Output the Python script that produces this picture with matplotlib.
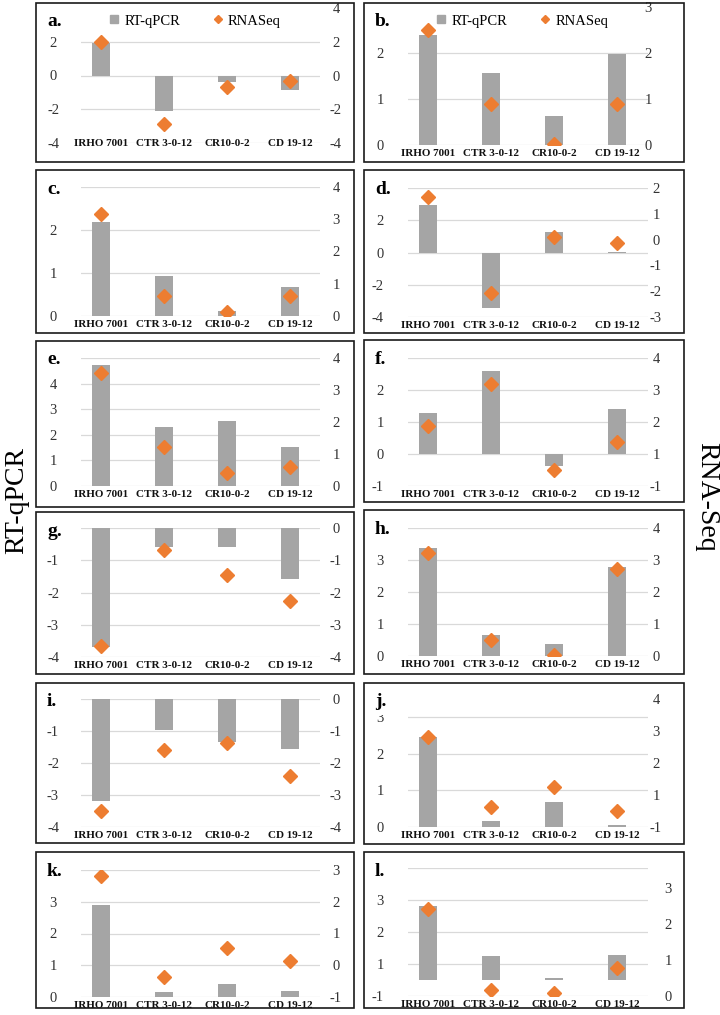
# RT-qPCR x RNA-Seq - 12 genes, 4 cultivares
import matplotlib.pyplot as plt
from matplotlib.patches import Rectangle
from matplotlib.lines import Line2D

plt.rcParams['font.family'] = ['Liberation Serif', 'DejaVu Serif']

# categorias (eixo x)
cultivares = ['IRHO 7001', 'CTR 3-0-12', 'CR10-0-2', 'CD 19-12']

# valores: barras (RT-qPCR, eixo esquerdo) e losangos (RNASeq, eixo direito)
qpcr_a = [1.9, -2.1, -0.4, -0.85]
seq_a = [2.0, -2.9, -0.7, -0.35]
qpcr_b = [2.4, 1.57, 0.63, 1.97]
seq_b = [2.5, 0.9, 0.02, 0.9]
qpcr_c = [2.19, 0.93, 0.11, 0.67]
seq_c = [3.17, 0.62, 0.12, 0.62]
qpcr_d = [2.97, -3.45, 1.27, 0.04]
seq_d = [1.64, -2.07, 0.12, -0.12]
qpcr_e = [4.72, 2.31, 2.55, 1.53]
seq_e = [3.53, 1.22, 0.41, 0.59]
qpcr_f = [1.28, 2.6, -0.37, 1.41]
seq_f = [1.88, 3.19, 0.5, 1.38]
qpcr_g = [-3.68, -0.59, -0.59, -1.58]
seq_g = [-3.65, -0.68, -1.46, -2.26]
qpcr_h = [3.37, 0.65, 0.36, 2.78]
seq_h = [3.22, 0.5, 0.03, 2.72]
qpcr_i = [-3.19, -0.97, -1.34, -1.55]
seq_i = [-3.5, -1.6, -1.38, -2.4]
qpcr_j = [2.45, 0.17, 0.68, 0.05]
seq_j = [2.81, 0.63, 1.25, 0.5]
qpcr_k = [2.9, 0.17, 0.4, 0.2]
seq_k = [2.8, -0.38, 0.53, 0.12]
qpcr_l = [2.82, 1.24, 0.57, 1.27]
seq_l = [2.42, 0.17, 0.08, 0.78]
base_l = 0.5  # barras do painel l partem deste valor

W, H = 720, 1015
fig = plt.figure(figsize=(W / 100, H / 100), dpi=100)

cinza = '#A5A5A5'
laranja = '#ED7D31'
cor_grade = '#D9D9D9'
cor_num = '#333333'

# layout em pixels por coluna: (x inicio area, x fim area, centro 1a categoria, espacamento)
colunas = {'esq': (81, 320, 101, 63), 'dir': (408, 648, 428, 63)}
caixas_x = {'esq': (36, 354), 'dir': (364, 684)}
rotulo_esq = {'esq': 53, 'dir': 384}   # posicao dos numeros do eixo esquerdo
rotulo_dir = {'esq': 336, 'dir': 656}  # centro dos numeros do eixo direito

paineis = [
    dict(letra='a', col='esq', caixa=(3, 162), area=(8, 143), qpcr=qpcr_a, seq=seq_a,
         lim_e=(-4, 4), lim_d=(-4, 4), tk_e=[-4, -2, 0, 2], tk_d=[-4, -2, 0, 2, 4],
         grade=[-4, -2, 0, 2], legenda=True, xpad=-3),
    dict(letra='b', col='dir', caixa=(3, 162), area=(7, 145), qpcr=qpcr_b, seq=seq_b,
         lim_e=(0, 3), lim_d=(0, 3), tk_e=[0, 1, 2], tk_d=[0, 1, 2, 3],
         grade=[0, 1, 2], legenda=True, xr=648),
    dict(letra='c', col='esq', caixa=(170, 333), area=(187, 316), qpcr=qpcr_c, seq=seq_c,
         lim_e=(0, 3), lim_d=(0, 4), tk_e=[0, 1, 2], tk_d=[0, 1, 2, 3, 4],
         grade=[0, 1, 2, 3]),
    dict(letra='d', col='dir', caixa=(170, 333), area=(188, 317), qpcr=qpcr_d, seq=seq_d,
         lim_e=(-4, 4), lim_d=(-3, 2), tk_e=[-4, -2, 0, 2], tk_d=[-3, -2, -1, 0, 1, 2],
         grade=[-4, -2, 0, 2, 4]),
    dict(letra='e', col='esq', caixa=(341, 507), area=(358, 486), qpcr=qpcr_e, seq=seq_e,
         lim_e=(0, 5), lim_d=(0, 4), tk_e=[0, 1, 2, 3, 4], tk_d=[0, 1, 2, 3, 4],
         grade=[0, 1, 2, 3, 4, 5]),
    dict(letra='f', col='dir', caixa=(340, 502), area=(358, 486), qpcr=qpcr_f, seq=seq_f,
         lim_e=(-1, 3), lim_d=(0, 4), tk_e=[-1, 0, 1, 2], tk_d=[0, 1, 2, 3, 4],
         lb_d=['-1', '1', '2', '3', '4'], grade=[-1, 0, 1, 2, 3]),
    dict(letra='g', col='esq', caixa=(512, 674), area=(528, 657), qpcr=qpcr_g, seq=seq_g,
         lim_e=(-4, 0), lim_d=(-4, 0), tk_e=[-4, -3, -2, -1], tk_d=[-4, -3, -2, -1, 0],
         grade=[-4, -3, -2, -1, 0]),
    dict(letra='h', col='dir', caixa=(510, 674), area=(528, 656), qpcr=qpcr_h, seq=seq_h,
         lim_e=(0, 4), lim_d=(0, 4), tk_e=[0, 1, 2, 3], tk_d=[0, 1, 2, 3, 4],
         grade=[0, 1, 2, 3, 4]),
    dict(letra='i', col='esq', caixa=(683, 843), area=(699, 827), qpcr=qpcr_i, seq=seq_i,
         lim_e=(-4, 0), lim_d=(-4, 0), tk_e=[-4, -3, -2, -1], tk_d=[-4, -3, -2, -1, 0],
         grade=[-4, -3, -2, -1, 0]),
    dict(letra='j', col='dir', caixa=(683, 844), area=(699, 827), qpcr=qpcr_j, seq=seq_j,
         lim_e=(0, 3.49), lim_d=(0, 4), tk_e=[0, 1, 2, 3], tk_d=[0, 1, 2, 3, 4],
         lb_d=['-1', '1', '2', '3', '4'], grade=[0, 1, 2, 3], pad_letra=3.5),
    dict(letra='k', col='esq', caixa=(852, 1008), area=(870, 997), qpcr=qpcr_k, seq=seq_k,
         lim_e=(0, 4), lim_d=(-1, 3), tk_e=[0, 1, 2, 3], tk_d=[-1, 0, 1, 2, 3],
         grade=[0, 1, 2, 3, 4]),
    dict(letra='l', col='dir', caixa=(852, 1008), area=(868, 996), qpcr=qpcr_l, seq=seq_l,
         lim_e=(0, 4), lim_d=(0, 3.56), tk_e=[0, 1, 2, 3], lb_e=['-1', '1', '2', '3'],
         tk_d=[0, 1, 2, 3], grade=[0, 1, 2, 3, 4], base=base_l, xr=668),
]

x = list(range(len(cultivares)))

for p in paineis:
    bx0, bx1 = caixas_x[p['col']]
    by0, by1 = p['caixa']
    fig.patches.append(Rectangle((bx0 / W, 1 - by1 / H), (bx1 - bx0) / W, (by1 - by0) / H,
                                 transform=fig.transFigure, fill=False,
                                 ec='#1a1a1a', lw=1.2))

    gx0, gx1, c0, sp = colunas[p['col']]
    yt, yb = p['area']
    ax = fig.add_axes([gx0 / W, 1 - yb / H, (gx1 - gx0) / W, (yb - yt) / H])
    ax.patch.set_visible(False)
    ax.set_xlim((gx0 - c0) / sp, (gx1 - c0) / sp)
    ax.set_ylim(*p['lim_e'])

    for g in p['grade']:
        ax.axhline(g, color=cor_grade, lw=0.9, zorder=0)

    base = p.get('base', 0)
    ax.bar(x, [v - base for v in p['qpcr']], bottom=base, width=0.3, color=cinza, zorder=2)

    ax.set_xticks(x)
    ax.set_xticklabels(cultivares, fontsize=8, fontweight='bold', color='#111111')
    ax.tick_params(axis='x', length=0, pad=p.get('xpad', 3))

    ax.set_yticks(p['tk_e'])
    ax.set_yticklabels(p.get('lb_e', [str(t) for t in p['tk_e']]), fontsize=10.5,
                       color=cor_num, ha=('center' if p['col'] == 'esq' else 'right'))
    ax.tick_params(axis='y', length=0, pad=(gx0 - rotulo_esq[p['col']]) * 0.72)

    ax2 = ax.twinx()
    ax2.set_ylim(*p['lim_d'])
    ax2.plot(x, p['seq'], 'D', color=laranja, ms=7.5, mec=laranja, zorder=3)
    ax2.set_yticks(p['tk_d'])
    ax2.set_yticklabels(p.get('lb_d', [str(t) for t in p['tk_d']]), fontsize=10.5,
                        color=cor_num, ha='center')
    xr = p.get('xr', rotulo_dir[p['col']])
    ax2.tick_params(axis='y', length=0, pad=(xr - gx1) * 0.72)

    for a_ in (ax, ax2):
        for s in a_.spines.values():
            s.set_visible(False)

    fig.text((bx0 + 11) / W, 1 - (by0 + 19) / H, p['letra'] + '.', fontsize=14,
             fontweight='bold', ha='left', va='center',
             bbox=dict(facecolor='white', edgecolor='none', pad=p.get('pad_letra', 0)))

    if p.get('legenda'):
        alca = [Line2D([], [], marker='s', ls='none', color=cinza, ms=6),
                Line2D([], [], marker='D', ls='none', color=laranja, ms=4.5)]
        cx = (gx0 + gx1) / 2 - 6
        ax.legend(alca, ['RT-qPCR', 'RNASeq'], loc='center', ncol=2, frameon=False,
                  fontsize=10.5, handlelength=0.8, handletextpad=0.3, columnspacing=2.2,
                  bbox_to_anchor=(cx / W, 1 - (by0 + 18) / H),
                  bbox_transform=fig.transFigure)

fig.text(17 / W, 1 - 500 / H, 'RT-qPCR', rotation=90, fontsize=20, ha='center', va='center')
fig.text(707 / W, 1 - 497 / H, 'RNA-Seq', rotation=270, fontsize=20, ha='center', va='center')

fig.savefig('out.png', dpi=100)
